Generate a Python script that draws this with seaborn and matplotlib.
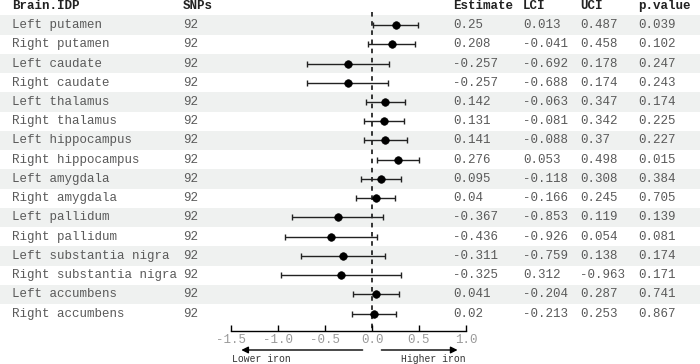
import matplotlib
matplotlib.use("Agg")
import matplotlib.pyplot as plt
import seaborn as sns
import numpy as np
import pandas as pd

# Table data
regions = ["Left putamen", "Right putamen", "Left caudate", "Right caudate",
           "Left thalamus", "Right thalamus", "Left hippocampus", "Right hippocampus",
           "Left amygdala", "Right amygdala", "Left pallidum", "Right pallidum",
           "Left substantia nigra", "Right substantia nigra", "Left accumbens", "Right accumbens"]
snps = [92] * 16
estimate = [0.25, 0.208, -0.257, -0.257, 0.142, 0.131, 0.141, 0.276,
            0.095, 0.04, -0.367, -0.436, -0.311, -0.325, 0.041, 0.02]
lci = [0.013, -0.041, -0.692, -0.688, -0.063, -0.081, -0.088, 0.053,
       -0.118, -0.166, -0.853, -0.926, -0.759, 0.312, -0.204, -0.213]
uci = [0.487, 0.458, 0.178, 0.174, 0.347, 0.342, 0.37, 0.498,
       0.308, 0.245, 0.119, 0.054, 0.138, -0.963, 0.287, 0.253]
pval = [0.039, 0.102, 0.247, 0.243, 0.174, 0.225, 0.227, 0.015,
        0.384, 0.705, 0.139, 0.081, 0.174, 0.171, 0.741, 0.867]
xticks = [-1.5, -1.0, -0.5, 0.0, 0.5, 1.0]

df = pd.DataFrame({"region": regions, "snps": snps, "est": estimate,
                   "lci": lci, "uci": uci, "p": pval})
df["row"] = np.arange(len(df))
df["lo"] = df[["lci", "uci"]].min(axis=1)
df["hi"] = df[["lci", "uci"]].max(axis=1)

sns.set_style("white")
plt.rcParams["font.family"] = ["Liberation Mono", "DejaVu Sans Mono"]

W, H = 700, 364
fig = plt.figure(figsize=(7, 3.64), dpi=100)
ylim = (15.9, -1.30)
bottom = 33 / H
height = 331 / H

# background: bands + table text (x in pixels)
bg = fig.add_axes([0, bottom, 1, height])
bg.set_xlim(0, W)
bg.set_ylim(*ylim)
bg.axis("off")
for i in range(0, len(df), 2):
    bg.axhspan(i - 0.5, i + 0.5, color="#eff1f0", lw=0, zorder=0)

head_kw = dict(fontsize=9, fontweight="bold", color="#222222", va="center")
body_kw = dict(fontsize=9, color="#5a5a5a", va="center")
cols = [(12, "Brain.IDP", "region"), (183, "SNPs", "snps"), (453, "Estimate", "est"),
        (523, "LCI", "lci"), (580, "UCI", "uci"), (638, "p.value", "p")]
for x, title, key in cols:
    bg.text(x, -1, title, **head_kw)
    for _, r in df.iterrows():
        v = r[key]
        s = str(int(v)) if key == "snps" else str(v)
        bg.text(x, r["row"], s, **body_kw)

# forest plot
ax = fig.add_axes([231 / W, bottom, 235 / W, height])
ax.patch.set_alpha(0)
ax.set_xlim(-1.5, 1.0)
ax.set_ylim(*ylim)
ax.plot([0, 0], [-0.7, ylim[0]], ls=(0, (3, 3)), color="black", lw=1.1, zorder=1)
ax.errorbar(df["est"], df["row"],
            xerr=[df["est"] - df["lo"], df["hi"] - df["est"]],
            fmt="none", ecolor="#222222", elinewidth=1, capsize=2.5, capthick=1,
            zorder=2, clip_on=False)
sns.scatterplot(data=df, x="est", y="row", ax=ax, color="black", s=30,
                edgecolor="black", zorder=3, clip_on=False, legend=False)

for sp in ["top", "left", "right"]:
    ax.spines[sp].set_visible(False)
ax.spines["bottom"].set_color("black")
ax.spines["bottom"].set_linewidth(1)
ax.set_yticks([])
ax.set_xticks(xticks)
ax.set_xticklabels([f"{t:.1f}" for t in xticks])
ax.tick_params(axis="x", direction="in", length=4, width=1, color="black",
               labelsize=9, labelcolor="#9a9a9a", pad=2, bottom=True)
ax.set_xlabel("")
ax.set_ylabel("")

# direction arrows
tr = ax.get_xaxis_transform()
ya = -19 / 331
ax.annotate("", xy=(-1.42, ya), xytext=(-0.07, ya), xycoords=tr, textcoords=tr,
            arrowprops=dict(arrowstyle="-|>", color="black", lw=1, mutation_scale=10))
ax.annotate("", xy=(0.94, ya), xytext=(0.07, ya), xycoords=tr, textcoords=tr,
            arrowprops=dict(arrowstyle="-|>", color="black", lw=1, mutation_scale=10))
ax.text(-1.49, -28 / 331, "Lower iron", transform=tr, fontsize=7, color="#333333",
        ha="left", va="center")
ax.text(0.995, -28 / 331, "Higher iron", transform=tr, fontsize=7, color="#333333",
        ha="right", va="center")

fig.savefig("out.png", dpi=100, facecolor="white")
